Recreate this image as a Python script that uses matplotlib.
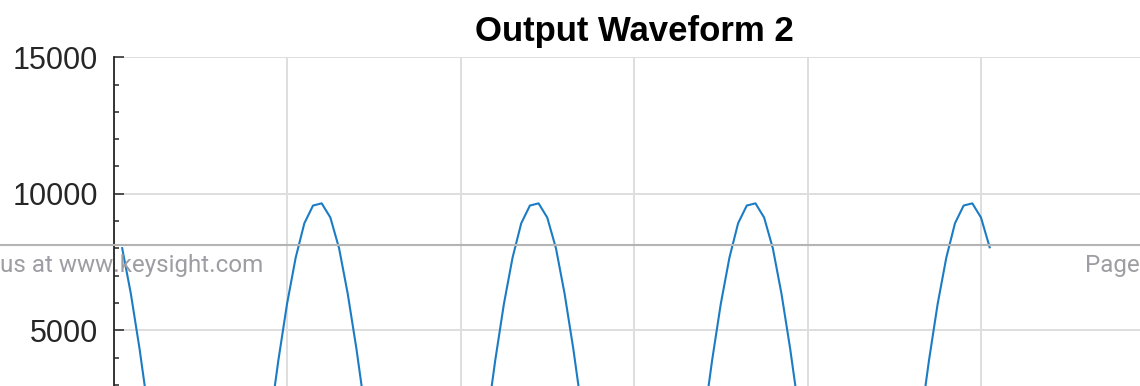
import numpy as np
import matplotlib
matplotlib.use('Agg')
import matplotlib.pyplot as plt
from matplotlib.lines import Line2D
from matplotlib.ticker import MultipleLocator

# second output channel, sampled at 100 Hz starting at 10 ms
t_start = 0.01
sample_rate = 100.0
output_2 = [
    8010, 6340, 4330, 2050, -360, -2750, -4960, -6870, -8340, -9280,
    -9650, -9400, -8570, -7200, -5370, -3210, -850, 1570, 3890, 5960,
    7660, 8920, 9570, 9650, 9130,
    8010, 6340, 4330, 2050, -360, -2750, -4960, -6870, -8340, -9280,
    -9650, -9400, -8570, -7200, -5370, -3210, -850, 1570, 3890, 5960,
    7660, 8920, 9570, 9650, 9130,
    8010, 6340, 4330, 2050, -360, -2750, -4960, -6870, -8340, -9280,
    -9650, -9400, -8570, -7200, -5370, -3210, -850, 1570, 3890, 5960,
    7660, 8920, 9570, 9650, 9130,
    8010, 6340, 4330, 2050, -360, -2750, -4960, -6870, -8340, -9280,
    -9650, -9400, -8570, -7200, -5370, -3210, -850, 1570, 3890, 5960,
    7660, 8920, 9570, 9650, 9130,
    8040,
]

x_ticks = [0, 0.2, 0.4, 0.6, 0.8, 1.0, 1.2]
y_limits = (-15000, 15000)
y_ticks = [5000, 10000, 15000]
title = 'Output Waveform 2'
footer_left = 'us at www.keysight.com'
footer_right = 'Page'

t = t_start + np.arange(len(output_2)) / sample_rate

W, H = 1140, 386
fig = plt.figure(figsize=(W / 100, H / 100), dpi=100)
fig.patch.set_facecolor('white')

# axes box in pixels (top-left origin): x 113.5..1154.5, y 57.3..876.3
left, right, top, bottom = 113.5, 1154.5, 57.3, 876.3
ax = fig.add_axes([left / W, 1 - bottom / H, (right - left) / W, (bottom - top) / H])

ax.plot(t, output_2, color='#1b7cc4', lw=1.5, zorder=3)

ax.set_xlim(x_ticks[0], x_ticks[-1])
ax.set_ylim(*y_limits)
ax.set_xticks(x_ticks)
ax.set_yticks(y_ticks)
ax.yaxis.set_minor_locator(MultipleLocator(1000))
ax.set_yticklabels([str(v) for v in y_ticks])

ax.grid(True, which='major', color='#dedede', lw=1.4, zorder=0)
ax.set_axisbelow(True)
for s in ['top', 'right']:
    ax.spines[s].set_visible(False)
ax.spines['left'].set_color('#262626')
ax.spines['left'].set_linewidth(1.3)
ax.spines['bottom'].set_color('#262626')

ax.tick_params(axis='both', which='major', direction='in', length=7.5, width=1.1,
               color='#262626', labelsize=22, labelcolor='#262626', pad=11)
ax.tick_params(axis='y', which='minor', direction='in', length=3.8, width=1.1,
               color='#262626')
# x labels sit far below the page edge
ax.tick_params(axis='x', labelbottom=False)
for lab in ax.get_yticklabels():
    lab.set_fontfamily('Liberation Sans')

ax.set_title(title, fontsize=25, fontweight='bold', fontfamily='Liberation Sans',
             pad=12, color='black')

# page footer running across the figure
fig.add_artist(Line2D([0, 1], [1 - 244.8 / H, 1 - 244.8 / H], transform=fig.transFigure,
                      color='#b4b4b4', lw=1.5, zorder=10))
fig.text(0.5 / W, 1 - 271.7 / H, footer_left, ha='left', va='baseline',
         fontsize=17.4, fontfamily='Roboto', color='#9d9da3', zorder=11)
fig.text(1085 / W, 1 - 271.7 / H, footer_right, ha='left', va='baseline',
         fontsize=17.4, fontfamily='Roboto', color='#9d9da3', zorder=11)

fig.savefig('out.png', dpi=100)
